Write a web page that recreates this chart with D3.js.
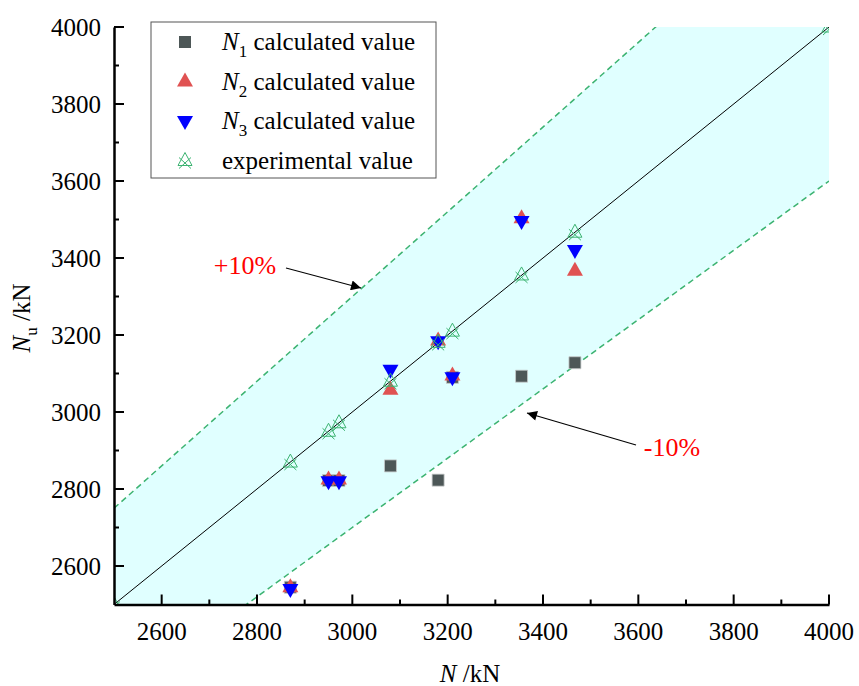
<!DOCTYPE html>
<html>
<head>
<meta charset="utf-8">
<script src="https://cdn.jsdelivr.net/npm/d3@7"></script>
</head>
<body style="margin:0">
<script>
// x values (N, kN) shared by all series
const nValues = [2870, 2950, 2972, 3080, 3180, 3210, 3355, 3467];
const n1Values = [2545, 2822, 2822, 2860, 2823, 3090, 3093, 3128];
const n2Values = [2545, 2825, 2825, 3058, 3186, 3095, 3503, 3367];
const n3Values = [2540, 2820, 2820, 3110, 3184, 3090, 3496, 3421];
const expValues = [2870, 2950, 2972, 3080, 3181, 3210, 3356, 3467];
const lineEnds = [2500, 4000];
const xTicks = [2600, 2800, 3000, 3200, 3400, 3600, 3800, 4000];
const yTicks = [2600, 2800, 3000, 3200, 3400, 3600, 3800, 4000];
const bandRatios = [1.1, 0.9];

const FONT = "Times New Roman";
const W = 859, H = 686;
const m = { left: 114, right: 30, top: 27, bottom: 81.5 };

const svg = d3.select("body").append("svg")
    .attr("width", W).attr("height", H);

const x = d3.scaleLinear().domain([2500, 4000]).range([m.left, W - m.right]);
const y = d3.scaleLinear().domain([2500, 4000]).range([H - m.bottom, m.top]);

// helper: serif text element
function txt(parent, size) {
    return parent.append("text")
        .attr("font-family", FONT)
        .style("font-family", FONT)
        .style("font-size", size + "px");
}

const defs = svg.append("defs");
defs.append("clipPath").attr("id", "clip")
    .append("rect")
    .attr("x", x(2500)).attr("y", y(4000))
    .attr("width", x(4000) - x(2500)).attr("height", y(2500) - y(4000));

const plot = svg.append("g").attr("clip-path", "url(#clip)");

// shaded band between +10% and -10%
const bandPts = [
    [2500, 2500 * bandRatios[0]], [4000, 4000 * bandRatios[0]],
    [4000, 4000 * bandRatios[1]], [2500, 2500 * bandRatios[1]]
];
plot.append("path")
    .attr("d", d3.line().x(d => x(d[0])).y(d => y(d[1]))(bandPts) + "Z")
    .attr("fill", "#e0ffff");

bandRatios.forEach(r => {
    plot.append("line")
        .attr("x1", x(2500)).attr("y1", y(2500 * r))
        .attr("x2", x(4000)).attr("y2", y(4000 * r))
        .attr("stroke", "#3cb371").attr("stroke-width", 1.5)
        .attr("stroke-dasharray", "6,4");
});

plot.append("line")
    .attr("x1", x(lineEnds[0])).attr("y1", y(lineEnds[0]))
    .attr("x2", x(lineEnds[1])).attr("y2", y(lineEnds[1]))
    .attr("stroke", "#000").attr("stroke-width", 1);

// marker shapes
const sq = "M-6,-6H6V6H-6Z";
const triUp = "M0,-9L8,5H-8Z";
const triDown = "M0,9L8,-5H-8Z";
const expMark = "M0,-8L7,5H-7Z M-6,-3L6,8 M6,-3L-6,8";

function drawSeries(vals, path, fill, stroke, sw, xs) {
    plot.append("g").selectAll("path")
        .data(vals.map((v, i) => [xs ? xs[i] : nValues[i], v]))
        .join("path")
        .attr("transform", d => `translate(${x(d[0])},${y(d[1])})`)
        .attr("d", path)
        .attr("fill", fill)
        .attr("stroke", stroke)
        .attr("stroke-width", sw);
}
drawSeries(n1Values, sq, "#4d5757", "#c8cccc", 0.8);
drawSeries(n2Values, triUp, "#e05252", "none", 0);
drawSeries(n3Values, triDown, "#0000ff", "none", 0);
drawSeries(expValues, expMark, "none", "#3cb371", 1);
drawSeries(lineEnds, expMark, "none", "#3cb371", 1, lineEnds);

// axes: lines and ticks from d3 scales, labels drawn as plain text
const xAxis = svg.append("g").attr("transform", `translate(0,${y(2500)})`);
const yAxis = svg.append("g").attr("transform", `translate(${x(2500)},0)`);

xAxis.call(d3.axisBottom(x).tickValues(d3.range(2600, 4001, 100)).tickSize(0).tickFormat(""));
xAxis.select(".domain").attr("stroke-width", 2.5).attr("stroke", "#000");
xAxis.selectAll(".tick").remove();
xAxis.selectAll(".mt").data(d3.range(2600, 4001, 100)).join("line")
    .attr("x1", d => x(d)).attr("x2", d => x(d))
    .attr("y2", d => d % 200 === 0 ? -10 : -5)
    .attr("stroke", "#000").attr("stroke-width", 2);
xTicks.forEach(v => {
    txt(svg, 25).attr("x", x(v)).attr("y", y(2500) + 35)
        .attr("text-anchor", "middle").attr("fill", "#000").text(v);
});

yAxis.call(d3.axisLeft(y).tickValues(d3.range(2600, 4001, 100)).tickSize(0).tickFormat(""));
yAxis.select(".domain").attr("stroke-width", 2.5).attr("stroke", "#000");
yAxis.selectAll(".tick").remove();
yAxis.selectAll(".mt").data(d3.range(2600, 4001, 100)).join("line")
    .attr("y1", d => y(d)).attr("y2", d => y(d))
    .attr("x2", d => d % 200 === 0 ? 10 : 5)
    .attr("stroke", "#000").attr("stroke-width", 2);
yTicks.forEach(v => {
    txt(svg, 25).attr("x", x(2500) - 13).attr("y", y(v)).attr("dy", "0.35em")
        .attr("text-anchor", "end").attr("fill", "#000").text(v);
});

// axis titles
const xt = txt(svg, 25).attr("x", 470).attr("y", 682).attr("text-anchor", "middle");
xt.append("tspan").style("font-style", "italic").text("N");
xt.append("tspan").text(" /kN");

const yt = txt(svg, 25).attr("transform", "translate(30,318) rotate(-90)")
    .attr("text-anchor", "middle");
yt.append("tspan").style("font-style", "italic").text("N");
yt.append("tspan").attr("dy", 7).style("font-size", "17px").text("u");
yt.append("tspan").attr("dy", -7).text(" /kN");

// legend
const legend = svg.append("g");
legend.append("rect").attr("x", 151).attr("y", 22).attr("width", 285).attr("height", 156)
    .attr("fill", "#fff").attr("stroke", "#555").attr("stroke-width", 1);
const legItems = [
    { sub: "1", text: " calculated value", path: sq, fill: "#4d5757", stroke: "none" },
    { sub: "2", text: " calculated value", path: triUp, fill: "#e05252", stroke: "none" },
    { sub: "3", text: " calculated value", path: triDown, fill: "#0000ff", stroke: "none" },
    { sub: null, text: "experimental value", path: expMark, fill: "none", stroke: "#3cb371" }
];
legItems.forEach((d, i) => {
    const cy = 42 + i * 39.5;
    legend.append("path").attr("transform", `translate(185,${cy})`)
        .attr("d", d.path).attr("fill", d.fill).attr("stroke", d.stroke);
    const t = txt(legend, 25).attr("x", 222).attr("y", cy + 8);
    if (d.sub) {
        t.append("tspan").style("font-style", "italic").text("N");
        t.append("tspan").attr("dy", 7).style("font-size", "17px").text(d.sub);
        t.append("tspan").attr("dy", -7).text(d.text);
    } else {
        t.text(d.text);
    }
});

// annotations
defs.append("marker").attr("id", "arr")
    .attr("viewBox", "0 0 10 10").attr("refX", 10).attr("refY", 5)
    .attr("markerWidth", 15).attr("markerHeight", 10).attr("markerUnits", "userSpaceOnUse")
    .attr("orient", "auto")
    .append("path").attr("d", "M0,0L10,5L0,10Z").attr("fill", "#000");

txt(svg, 26).attr("x", 245).attr("y", 274).attr("text-anchor", "middle")
    .attr("fill", "#ff0000").text("+10%");
svg.append("line").attr("x1", 286).attr("y1", 268).attr("x2", 361).attr("y2", 288)
    .attr("stroke", "#000").attr("stroke-width", 1.2).attr("marker-end", "url(#arr)");

txt(svg, 26).attr("x", 672).attr("y", 456).attr("text-anchor", "middle")
    .attr("fill", "#ff0000").text("-10%");
svg.append("line").attr("x1", 636).attr("y1", 445).attr("x2", 527).attr("y2", 413)
    .attr("stroke", "#000").attr("stroke-width", 1.2).attr("marker-end", "url(#arr)");
</script>
</body>
</html>
